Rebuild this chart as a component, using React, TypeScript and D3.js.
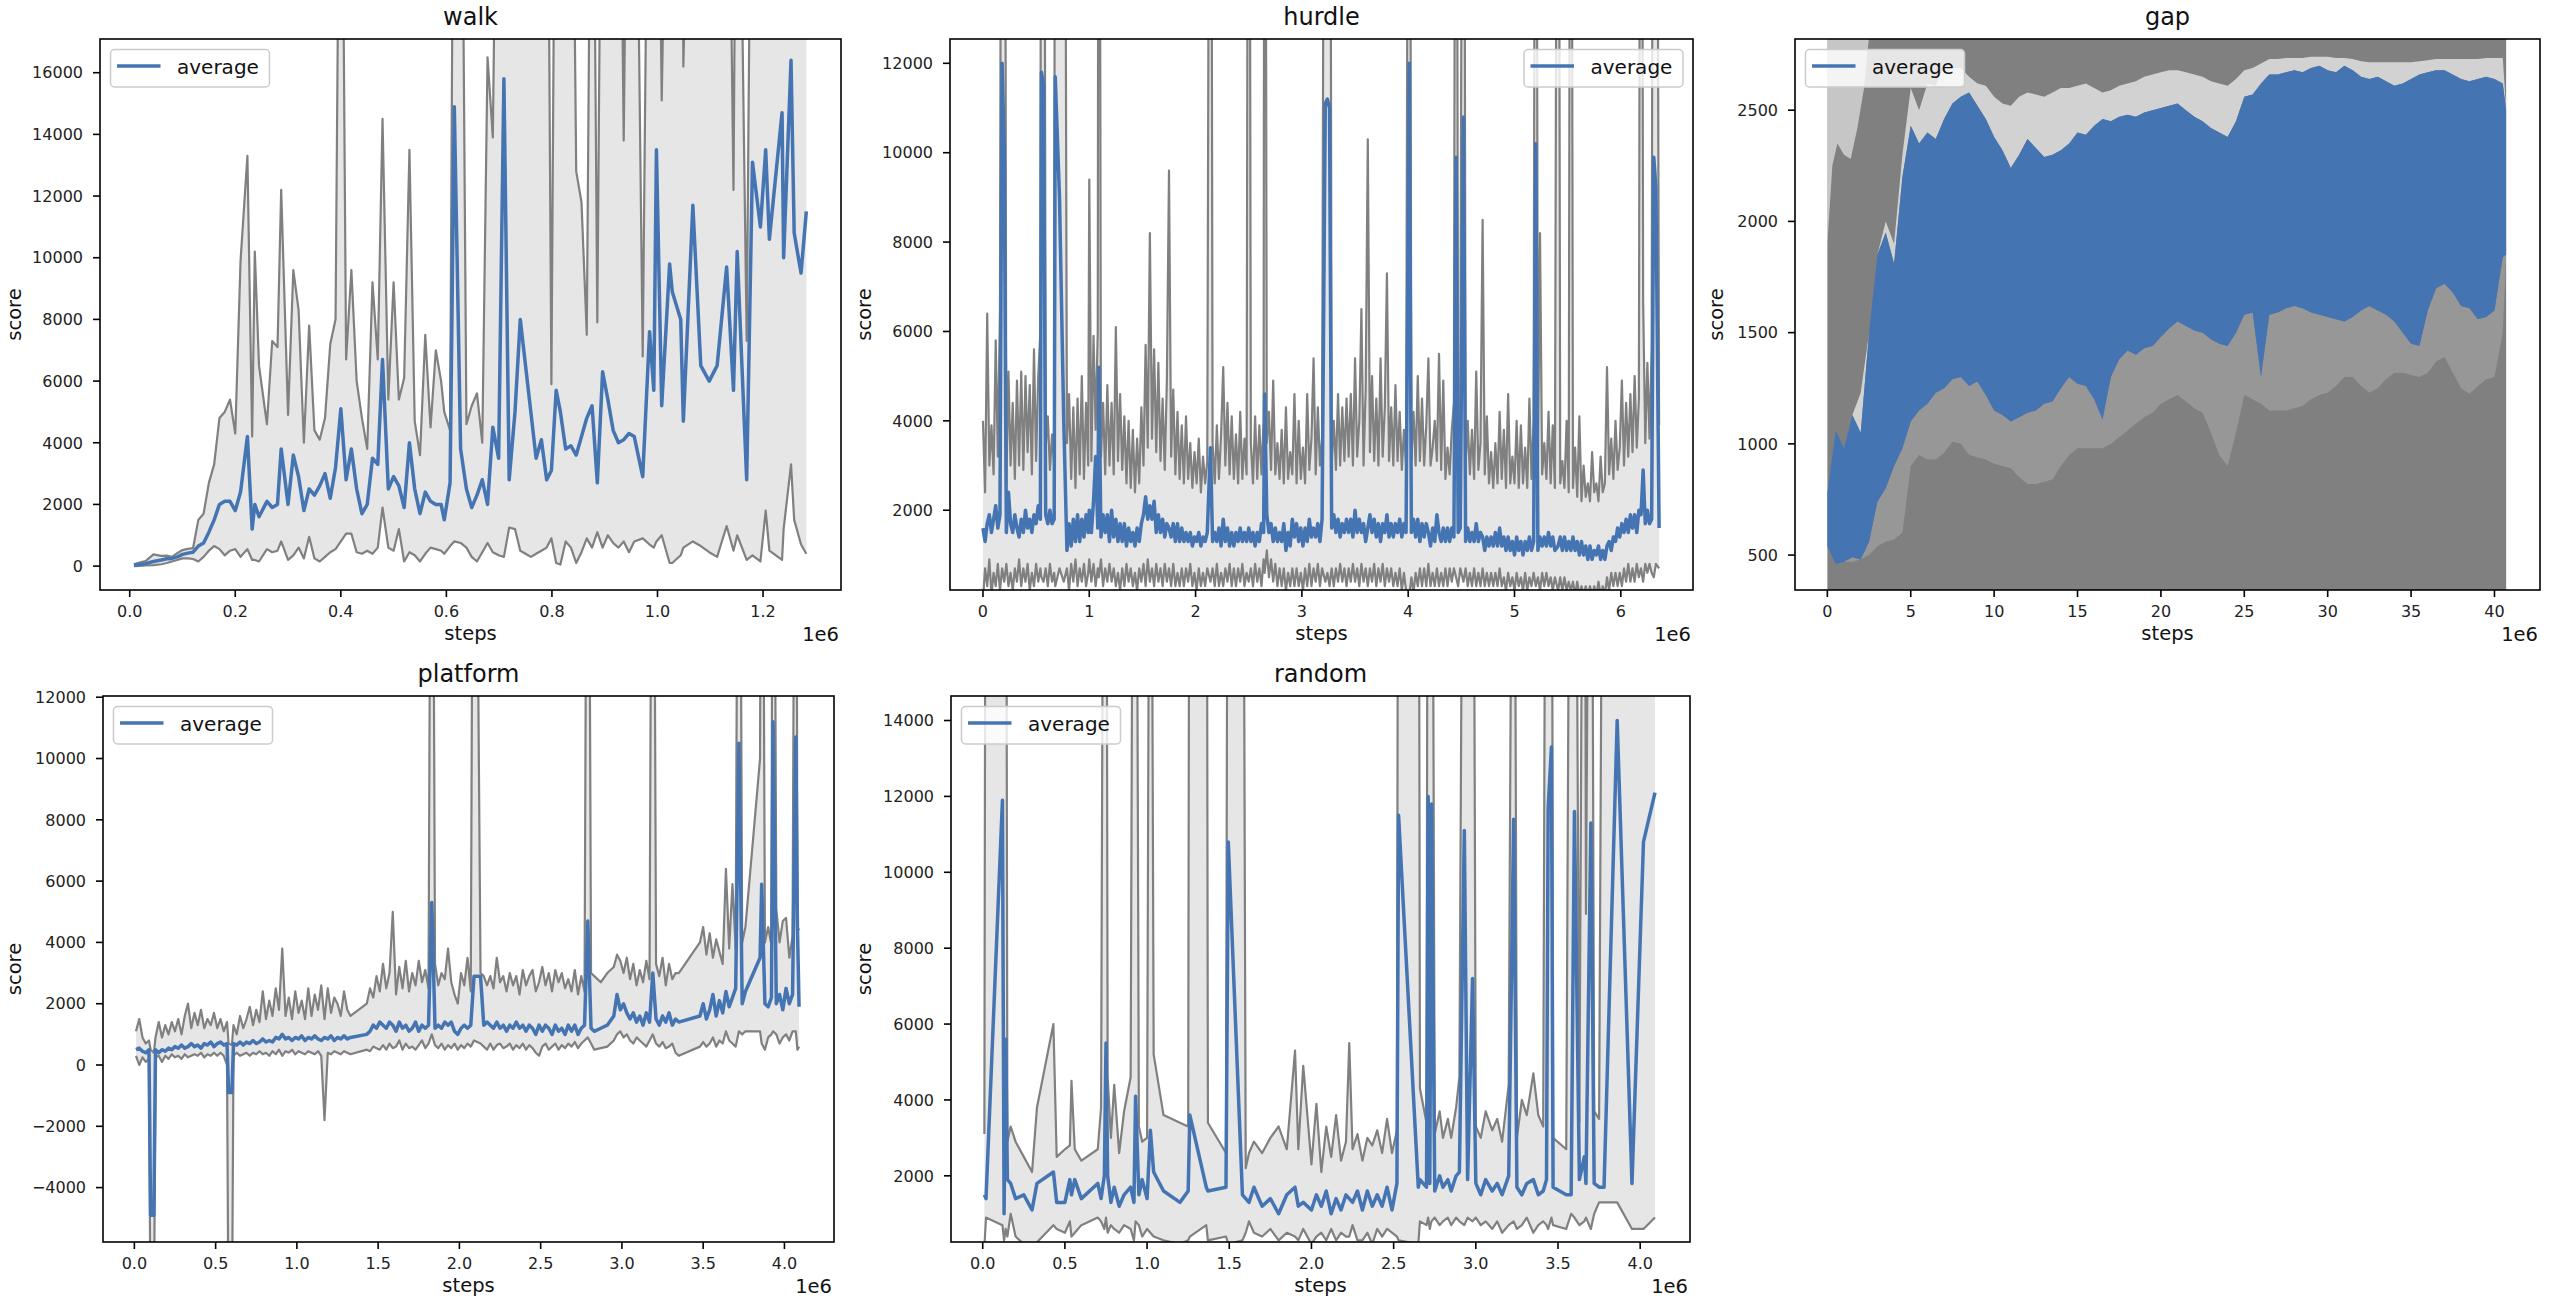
import React from "react";
import * as d3 from "d3";

// colours
const BLUE = "#4574b3";
const GREY = "#808080";
const BAND = "#e6e6e6";
const FONT = "DejaVu Sans, Liberation Sans, sans-serif";

// rows are [steps (1e6), average, min, max]; 30000 = off the top of the plot
const walkRows = [
	[0.008, 30, 0, 60], [0.02, 60, 10, 120], [0.03, 80, 20, 160], [0.045, 150, 30, 380],
	[0.06, 200, 60, 330], [0.07, 240, 100, 340], [0.08, 250, 150, 300], [0.09, 300, 200, 420],
	[0.1, 380, 250, 520], [0.11, 420, 250, 560], [0.12, 450, 230, 580], [0.13, 650, 150, 1500],
	[0.14, 750, 300, 1700], [0.15, 1100, 500, 2700], [0.16, 1500, 650, 3300], [0.17, 2000, 550, 4800],
	[0.18, 2100, 350, 5000], [0.19, 2100, 500, 5400], [0.2, 1800, 550, 4300], [0.21, 2400, 300, 9900],
	[0.223, 4200, 550, 13300], [0.232, 1200, 200, 4200], [0.237, 2000, 200, 10200], [0.245, 1600, 150, 6500],
	[0.26, 2100, 550, 4600], [0.27, 1900, 450, 7300], [0.28, 2000, 500, 7100], [0.287, 3800, 800, 12200],
	[0.3, 2000, 200, 4900], [0.31, 3600, 350, 9600], [0.32, 2900, 600, 8300], [0.33, 1800, 250, 4000],
	[0.34, 2500, 950, 7800], [0.35, 2300, 250, 4400], [0.36, 2600, 150, 4100], [0.37, 3000, 300, 4800],
	[0.38, 2200, 450, 7200], [0.39, 3200, 550, 8000], [0.4, 5100, 800, 30000], [0.41, 2800, 1050, 6700],
	[0.42, 3800, 1050, 9600], [0.43, 2500, 450, 6000], [0.44, 1700, 400, 4800], [0.45, 2000, 500, 3800],
	[0.46, 3500, 400, 9200], [0.47, 3300, 600, 6700], [0.479, 6700, 1900, 14500], [0.49, 2500, 600, 5400],
	[0.5, 2900, 500, 9200], [0.51, 2600, 1200, 5400], [0.52, 1900, 150, 6100], [0.53, 4000, 450, 13500],
	[0.54, 2500, 350, 4700], [0.55, 1700, 150, 3600], [0.56, 2400, 400, 7500], [0.57, 2100, 600, 4500],
	[0.58, 2000, 550, 7000], [0.59, 2000, 500, 6000], [0.596, 1500, 400, 5000], [0.607, 2700, 650, 4400],
	[0.615, 14900, 800, 30000], [0.627, 3800, 750, 30000], [0.638, 2500, 600, 4600], [0.648, 1900, 300, 5200],
	[0.658, 2300, 150, 5600], [0.668, 2800, 450, 4000], [0.678, 2000, 750, 16500], [0.688, 4500, 450, 13900],
	[0.699, 3500, 350, 30000], [0.709, 15800, 300, 30000], [0.719, 2800, 1250, 30000], [0.73, 5000, 1200, 30000],
	[0.74, 8000, 500, 30000], [0.75, 6500, 400, 30000], [0.76, 5000, 300, 30000], [0.77, 3500, 400, 30000],
	[0.78, 4100, 500, 30000], [0.79, 2800, 600, 30000], [0.799, 3100, 900, 5900], [0.808, 5700, 100, 30000],
	[0.816, 5000, 50, 30000], [0.826, 3800, 800, 30000], [0.836, 3900, 600, 30000], [0.846, 3600, 100, 12800],
	[0.856, 4200, 450, 11800], [0.866, 4800, 900, 7500], [0.876, 5200, 600, 30000], [0.886, 2700, 1100, 7900],
	[0.896, 6300, 600, 30000], [0.906, 5400, 1000, 30000], [0.916, 4400, 750, 30000], [0.926, 4000, 600, 30000],
	[0.936, 4100, 800, 13800], [0.946, 4300, 450, 30000], [0.956, 4200, 800, 30000], [0.972, 2900, 900, 6800],
	[0.985, 7600, 700, 30000], [0.993, 5700, 600, 30000], [0.998, 13500, 800, 30000], [1.008, 5200, 1000, 15100],
	[1.023, 9800, 100, 30000], [1.028, 8900, 100, 30000], [1.044, 8000, 350, 30000], [1.049, 4700, 600, 16200],
	[1.067, 11700, 800, 30000], [1.082, 6500, 650, 30000], [1.098, 6000, 450, 30000], [1.113, 6500, 300, 30000],
	[1.131, 9700, 1300, 30000], [1.144, 5700, 500, 12200], [1.151, 10200, 1000, 30000], [1.169, 2800, 200, 7300],
	[1.18, 13100, 350, 30000], [1.195, 11000, 150, 30000], [1.205, 13500, 1800, 30000], [1.212, 10600, 500, 30000],
	[1.236, 14700, 200, 30000], [1.239, 10000, 1200, 30000], [1.253, 16400, 3300, 30000], [1.259, 10800, 1500, 30000],
	[1.272, 9500, 700, 30000], [1.282, 11500, 400, 30000],
];

const hurdleRows = [
	[0.0, 1600, 0, 4000], [0.02, 1300, 700, 2400], [0.04, 1700, 300, 6400], [0.06, 1900, 900, 3000],
	[0.08, 1500, 100, 3900], [0.1, 1800, 600, 2800], [0.12, 2100, 300, 5800], [0.14, 1600, 800, 3200],
	[0.16, 1900, 200, 6500], [0.18, 12000, 700, 30000], [0.2, 10000, 400, 30000], [0.22, 1500, 800, 2600],
	[0.24, 2400, 300, 5100], [0.26, 1700, 600, 3000], [0.28, 1500, 200, 4400], [0.3, 1900, 700, 2700],
	[0.32, 1600, 400, 4900], [0.34, 1400, 900, 3000], [0.36, 1800, 300, 5100], [0.38, 1500, 700, 2900],
	[0.4, 2000, 400, 5000], [0.42, 1600, 800, 3300], [0.44, 1800, 200, 4800], [0.46, 1500, 600, 2800],
	[0.48, 1900, 300, 5600], [0.5, 1700, 800, 3100], [0.52, 2100, 400, 5000], [0.54, 1800, 700, 6000],
	[0.55, 11800, 500, 30000], [0.57, 11500, 400, 30000], [0.59, 1900, 700, 3400], [0.61, 1700, 300, 4100],
	[0.63, 2000, 800, 2900], [0.65, 1700, 400, 3700], [0.67, 1800, 600, 3000], [0.68, 11700, 300, 30000],
	[0.72, 9000, 700, 30000], [0.76, 4000, 400, 30000], [0.79, 1100, 700, 3500], [0.81, 1700, 200, 4600],
	[0.83, 1200, 800, 2700], [0.85, 1800, 400, 4300], [0.87, 1300, 900, 2500], [0.89, 1900, 300, 4500],
	[0.91, 1300, 700, 2800], [0.93, 1800, 400, 5000], [0.95, 1400, 800, 2700], [0.97, 1900, 300, 4400],
	[0.99, 1500, 600, 3000], [1.0, 2000, 900, 9400], [1.02, 1500, 400, 3100], [1.04, 2200, 800, 5900],
	[1.06, 3200, 300, 3800], [1.08, 1600, 700, 6000], [1.09, 5200, 500, 30000], [1.11, 1400, 900, 3200],
	[1.13, 1900, 300, 4400], [1.15, 1500, 700, 2800], [1.17, 1900, 400, 4800], [1.19, 1300, 800, 3000],
	[1.21, 2000, 400, 4400], [1.23, 1400, 700, 2800], [1.25, 1800, 300, 6100], [1.27, 1300, 600, 3100],
	[1.29, 1700, 200, 4600], [1.31, 1300, 700, 2900], [1.33, 1700, 300, 4100], [1.35, 1200, 800, 2600],
	[1.37, 1600, 400, 4000], [1.39, 1300, 700, 2500], [1.41, 1500, 300, 3800], [1.43, 1200, 600, 2400],
	[1.45, 1600, 200, 3600], [1.47, 1300, 700, 2600], [1.49, 1700, 400, 4300], [1.51, 1900, 800, 3000],
	[1.53, 2300, 300, 5700], [1.55, 1800, 900, 3400], [1.57, 2100, 400, 8200], [1.59, 1800, 700, 3600],
	[1.61, 2200, 300, 5600], [1.63, 1500, 800, 3300], [1.65, 1900, 400, 5300], [1.67, 1500, 700, 3100],
	[1.69, 1800, 300, 4500], [1.71, 1400, 800, 2900], [1.73, 1700, 400, 4900], [1.75, 1600, 700, 9600],
	[1.77, 1400, 300, 3200], [1.79, 1700, 800, 4700], [1.81, 1300, 300, 2800], [1.83, 1700, 600, 4200],
	[1.85, 1300, 300, 2700], [1.87, 1600, 700, 3900], [1.89, 1300, 300, 2600], [1.91, 1500, 700, 4100],
	[1.93, 1300, 400, 2700], [1.95, 1500, 800, 3500], [1.97, 1200, 300, 2500], [1.99, 1400, 600, 3300],
	[2.01, 1300, 200, 2600], [2.03, 1500, 700, 3600], [2.05, 1200, 300, 2400], [2.07, 1400, 600, 3200],
	[2.09, 1300, 300, 2600], [2.11, 1500, 700, 3100], [2.14, 3400, 400, 30000], [2.16, 1300, 700, 3500],
	[2.18, 1500, 300, 2600], [2.2, 1300, 800, 3900], [2.22, 1600, 300, 2700], [2.24, 1200, 600, 3700],
	[2.26, 1800, 300, 5200], [2.28, 1300, 700, 3000], [2.3, 1600, 400, 4400], [2.32, 1200, 800, 2800],
	[2.34, 1500, 300, 4100], [2.36, 1200, 700, 2700], [2.38, 1500, 300, 3700], [2.4, 1300, 700, 2600],
	[2.42, 1600, 400, 4200], [2.44, 1300, 800, 2700], [2.46, 1500, 300, 3600], [2.48, 1300, 600, 2800],
	[2.5, 1600, 400, 30000], [2.52, 1300, 700, 3500], [2.54, 1500, 300, 2600], [2.56, 1200, 800, 4100],
	[2.58, 1500, 400, 2700], [2.6, 1300, 700, 3900], [2.62, 1700, 300, 2800], [2.64, 1500, 900, 4000],
	[2.65, 4600, 600, 30000], [2.67, 1900, 1100, 3500], [2.69, 1500, 500, 4200], [2.71, 1700, 900, 2900],
	[2.73, 1300, 400, 4900], [2.75, 1600, 800, 2800], [2.77, 1300, 300, 3500], [2.79, 1500, 700, 2700],
	[2.81, 1300, 300, 3800], [2.83, 1700, 700, 2600], [2.85, 1100, 200, 4300], [2.87, 1500, 600, 2700],
	[2.89, 1200, 300, 3300], [2.91, 1800, 700, 2800], [2.93, 1400, 300, 4600], [2.95, 1700, 700, 2600],
	[2.97, 1300, 300, 4000], [2.99, 1600, 600, 2700], [3.01, 1200, 200, 3400], [3.03, 1600, 700, 2600],
	[3.05, 1300, 300, 4600], [3.07, 1800, 800, 2900], [3.09, 1400, 300, 3600], [3.11, 1600, 700, 5400],
	[3.13, 1400, 400, 2800], [3.15, 1700, 800, 4300], [3.17, 1300, 300, 3000], [3.19, 1800, 700, 3600],
	[3.22, 11100, 400, 30000], [3.24, 11200, 600, 30000], [3.26, 11000, 300, 30000], [3.28, 1600, 700, 3000],
	[3.3, 1900, 300, 4000], [3.32, 1500, 700, 2900], [3.34, 1800, 400, 4600], [3.36, 1400, 800, 3000],
	[3.38, 1700, 400, 4300], [3.4, 1500, 700, 3100], [3.42, 1800, 300, 4500], [3.44, 1500, 700, 3200],
	[3.46, 1800, 400, 4600], [3.48, 1400, 800, 3000], [3.5, 2000, 400, 5400], [3.52, 1500, 700, 3200],
	[3.54, 1800, 300, 4000], [3.56, 1500, 800, 6500], [3.58, 1700, 400, 3000], [3.6, 1300, 700, 4700],
	[3.62, 1600, 300, 10300], [3.64, 1900, 700, 3300], [3.66, 1500, 400, 5000], [3.68, 1800, 800, 3100],
	[3.7, 1400, 300, 4500], [3.72, 1700, 700, 3000], [3.74, 1300, 400, 5400], [3.76, 1700, 800, 3200],
	[3.78, 1500, 300, 4300], [3.8, 1900, 700, 7300], [3.82, 1400, 400, 3100], [3.84, 1700, 700, 4300],
	[3.86, 1400, 300, 3000], [3.88, 1700, 600, 4800], [3.9, 1500, 300, 3100], [3.92, 1800, 700, 4200],
	[3.94, 1400, 200, 2900], [3.96, 1700, 600, 3800], [3.98, 1500, 200, 3000], [4.01, 12000, 100, 30000],
	[4.03, 1500, 500, 3100], [4.05, 1800, 150, 4200], [4.07, 1400, 600, 3000], [4.09, 1800, 300, 5000],
	[4.11, 1300, 700, 3100], [4.13, 1700, 300, 4500], [4.15, 1400, 700, 3000], [4.17, 1700, 300, 3900],
	[4.19, 1500, 800, 5400], [4.21, 1200, 300, 3000], [4.23, 1600, 600, 3400], [4.25, 1300, 300, 4000],
	[4.27, 1900, 700, 3100], [4.29, 1500, 300, 5500], [4.31, 1300, 600, 2900], [4.33, 1600, 300, 4900],
	[4.35, 1300, 700, 2700], [4.37, 1600, 300, 3400], [4.39, 1300, 700, 2800], [4.41, 1600, 400, 3800],
	[4.43, 1400, 700, 4400], [4.45, 9900, 500, 30000], [4.47, 1500, 300, 3000], [4.49, 1600, 700, 4300],
	[4.52, 10800, 400, 30000], [4.54, 1300, 700, 3000], [4.56, 1600, 300, 4000], [4.58, 1300, 600, 2800],
	[4.6, 1500, 300, 3800], [4.62, 1300, 700, 2700], [4.64, 1700, 300, 5100], [4.66, 1300, 600, 2900],
	[4.68, 1500, 300, 3500], [4.7, 1400, 700, 8500], [4.72, 1100, 300, 2800], [4.74, 1400, 600, 4100],
	[4.76, 1200, 300, 2600], [4.78, 1400, 600, 3300], [4.8, 1200, 300, 2500], [4.82, 1500, 600, 3500],
	[4.84, 1200, 300, 2600], [4.86, 1600, 700, 4200], [4.88, 1200, 300, 2700], [4.9, 1400, 500, 3800],
	[4.92, 1100, 200, 2500], [4.94, 1400, 600, 4600], [4.96, 1100, 300, 2600], [4.98, 1300, 500, 3200],
	[5.0, 1000, 200, 2600], [5.02, 1400, 600, 4000], [5.04, 1100, 300, 2500], [5.06, 1300, 500, 3900],
	[5.08, 1000, 200, 2600], [5.1, 1300, 600, 3400], [5.12, 1100, 200, 2500], [5.14, 1400, 500, 4500],
	[5.16, 1100, 300, 2700], [5.18, 1300, 600, 4000], [5.2, 10200, 300, 30000], [5.22, 1100, 500, 3000],
	[5.24, 1400, 200, 8200], [5.26, 1200, 600, 2800], [5.28, 1400, 300, 3500], [5.3, 1200, 600, 2700],
	[5.32, 1500, 300, 4200], [5.34, 1200, 500, 2600], [5.36, 1400, 200, 3900], [5.38, 1100, 500, 2500],
	[5.41, 1200, 200, 30000], [5.43, 1400, 500, 2600], [5.45, 1100, 200, 3100], [5.47, 1400, 500, 2500],
	[5.49, 1100, 200, 4000], [5.51, 1300, 400, 2400], [5.53, 1100, 200, 30000], [5.55, 1400, 400, 2500],
	[5.57, 1100, 100, 3400], [5.59, 1300, 400, 2300], [5.61, 1000, 100, 4100], [5.63, 1300, 300, 2200],
	[5.65, 1000, 100, 3000], [5.67, 1200, 300, 2300], [5.69, 900, 100, 2600], [5.71, 1200, 300, 2200],
	[5.73, 900, 100, 3300], [5.75, 1100, 300, 2400], [5.77, 1000, 100, 2600], [5.79, 1200, 400, 2200],
	[5.81, 900, 100, 3200], [5.83, 1100, 300, 2400], [5.85, 900, 100, 2600], [5.87, 1200, 500, 5200],
	[5.89, 1300, 200, 2800], [5.91, 1100, 600, 3600], [5.93, 1400, 300, 2700], [5.95, 1300, 600, 4000],
	[5.97, 1600, 300, 2900], [5.99, 1400, 600, 3400], [6.01, 1700, 300, 4900], [6.03, 1500, 700, 3000],
	[6.05, 1800, 400, 4400], [6.07, 1500, 800, 3200], [6.09, 1900, 400, 4600], [6.11, 1600, 700, 3300],
	[6.13, 1900, 400, 5000], [6.15, 1500, 800, 3400], [6.17, 2000, 500, 4500], [6.19, 1900, 700, 30000],
	[6.21, 2900, 400, 6700], [6.23, 1700, 800, 3500], [6.25, 2000, 600, 5300], [6.27, 1700, 800, 3600],
	[6.29, 1800, 600, 5600], [6.31, 9900, 500, 30000], [6.33, 9200, 800, 30000], [6.36, 1600, 700, 3900],
];

// gap is too dense to read point by point: rows are [steps (1e6), blue low, blue high, light low, light high]
const gapRows = [
	[0, 540, 780, 540, 780], [0.5, 460, 1060, 460, 1060], [1, 470, 980, 470, 980], [1.5, 490, 1130, 470, 1130],
	[2, 480, 1050, 480, 1230], [2.5, 560, 1500, 500, 1500], [3, 740, 1850, 540, 1850], [3.5, 800, 1950, 560, 2000],
	[4, 900, 1810, 570, 1900], [4.5, 980, 2200, 600, 2300], [5, 1100, 2430, 900, 2600], [5.5, 1150, 2350, 950, 2500],
	[6, 1180, 2400, 930, 2620], [6.5, 1230, 2370, 930, 2610], [7, 1250, 2460, 960, 2700], [7.5, 1290, 2530, 1010, 2690],
	[8, 1300, 2560, 1000, 2690], [8.5, 1260, 2580, 950, 2650], [9, 1280, 2520, 940, 2620], [9.5, 1220, 2460, 930, 2610],
	[10, 1150, 2380, 910, 2560], [10.5, 1130, 2320, 900, 2530], [11, 1100, 2240, 890, 2520], [11.5, 1120, 2300, 850, 2560],
	[12, 1140, 2370, 820, 2580], [12.5, 1150, 2330, 820, 2570], [13, 1180, 2290, 830, 2560], [13.5, 1190, 2300, 840, 2580],
	[14, 1250, 2320, 900, 2600], [14.5, 1300, 2350, 950, 2600], [15, 1270, 2400, 980, 2610], [15.5, 1260, 2390, 980, 2620],
	[16, 1200, 2430, 980, 2600], [16.5, 1110, 2460, 980, 2580], [17, 1300, 2450, 1000, 2590], [17.5, 1380, 2470, 1030, 2610],
	[18, 1420, 2480, 1060, 2620], [18.5, 1400, 2470, 1090, 2630], [19, 1430, 2490, 1120, 2650], [19.5, 1440, 2500, 1140, 2660],
	[20, 1480, 2510, 1180, 2670], [20.5, 1520, 2520, 1200, 2680], [21, 1550, 2530, 1220, 2680], [21.5, 1530, 2500, 1190, 2670],
	[22, 1510, 2470, 1160, 2660], [22.5, 1500, 2450, 1140, 2650], [23, 1470, 2420, 1050, 2630], [23.5, 1450, 2400, 950, 2620],
	[24, 1440, 2380, 900, 2610], [24.5, 1500, 2450, 1050, 2640], [25, 1580, 2560, 1220, 2680], [25.5, 1590, 2570, 1200, 2690],
	[26, 1300, 2620, 1180, 2710], [26.5, 1580, 2660, 1150, 2730], [27, 1590, 2660, 1150, 2730], [27.5, 1610, 2670, 1150, 2735],
	[28, 1620, 2680, 1160, 2735], [28.5, 1610, 2670, 1170, 2735], [29, 1590, 2690, 1200, 2740], [29.5, 1580, 2700, 1220, 2740],
	[30, 1570, 2680, 1230, 2740], [30.5, 1560, 2670, 1260, 2735], [31, 1550, 2700, 1300, 2735], [31.5, 1570, 2680, 1300, 2730],
	[32, 1600, 2650, 1260, 2720], [32.5, 1620, 2640, 1230, 2715], [33, 1600, 2650, 1250, 2715], [33.5, 1580, 2630, 1290, 2715],
	[34, 1550, 2610, 1320, 2715], [34.5, 1500, 2620, 1320, 2715], [35, 1450, 2640, 1310, 2715], [35.5, 1440, 2660, 1300, 2720],
	[36, 1600, 2670, 1320, 2725], [36.5, 1700, 2680, 1370, 2730], [37, 1720, 2680, 1390, 2730], [37.5, 1680, 2660, 1320, 2730],
	[38, 1620, 2640, 1250, 2730], [38.5, 1610, 2630, 1225, 2730], [39, 1560, 2640, 1260, 2730], [39.5, 1570, 2650, 1290, 2735],
	[40, 1600, 2640, 1300, 2735], [40.5, 1840, 2620, 1500, 2735], [40.7, 1850, 2500, 1850, 2500],
];

// early gap steps where the max line still falls below the top: [steps (1e6), lowest white]
const gapTopRows = [
	[0, 1900], [0.3, 2250], [0.6, 2350], [1.0, 2300], [1.4, 2280], [1.8, 2420], [2.2, 2600], [2.5, 2830],
];

const platformRows = [
	[0.01, 500, 300, 1100], [0.03, 550, 0, 1500], [0.05, 450, 250, 900], [0.07, 400, 100, 700],
	[0.09, 500, 200, 800], [0.1, -4900, -9000, 500], [0.12, -4900, -9000, 400], [0.13, 500, 250, 900],
	[0.15, 400, 300, 1400], [0.17, 500, 100, 900], [0.19, 450, 300, 1300], [0.21, 550, 200, 1000],
	[0.23, 500, 350, 1400], [0.25, 600, 250, 1100], [0.27, 550, 300, 1500], [0.29, 650, 200, 1000],
	[0.31, 550, 350, 1600], [0.33, 600, 250, 2000], [0.35, 700, 300, 1200], [0.37, 600, 350, 1700],
	[0.39, 650, 300, 1300], [0.41, 550, 400, 1800], [0.43, 700, 250, 1200], [0.45, 650, 350, 1500],
	[0.47, 750, 300, 1300], [0.49, 600, 400, 1700], [0.51, 700, 300, 1200], [0.53, 750, 400, 1500],
	[0.55, 650, 300, 1100], [0.57, 700, 0, 1400], [0.58, -900, -9000, 700], [0.6, -900, -9000, 650],
	[0.61, 700, 300, 1300], [0.63, 650, 400, 1000], [0.65, 750, 300, 1600], [0.67, 650, 350, 1200],
	[0.69, 750, 400, 1500], [0.71, 700, 300, 1900], [0.73, 800, 400, 1300], [0.75, 700, 350, 1800],
	[0.77, 750, 450, 1400], [0.79, 850, 350, 2400], [0.81, 750, 400, 1500], [0.83, 800, 300, 2100],
	[0.85, 750, 450, 1600], [0.87, 900, 350, 2500], [0.89, 850, 500, 1800], [0.91, 1000, 300, 3800],
	[0.93, 850, 450, 1600], [0.95, 900, 400, 2200], [0.97, 800, 500, 1500], [0.99, 900, 350, 2400],
	[1.01, 850, 450, 1700], [1.03, 950, 400, 2100], [1.05, 800, 350, 1500], [1.07, 900, 450, 2500],
	[1.09, 850, 400, 1600], [1.11, 950, 350, 2300], [1.13, 850, 450, 1800], [1.15, 800, 300, 2600],
	[1.17, 900, -1800, 1500], [1.19, 850, 400, 2500], [1.21, 950, 350, 1700], [1.23, 800, 450, 2200],
	[1.25, 900, 400, 2000], [1.27, 850, 350, 1600], [1.29, 950, 450, 2400], [1.31, 850, 400, 1800],
	[1.33, 900, 350, 1600], [1.43, 1000, 500, 2000], [1.45, 1100, 450, 2500], [1.47, 1300, 600, 2200],
	[1.49, 1200, 550, 2900], [1.51, 1400, 500, 2400], [1.53, 1300, 650, 3300], [1.55, 1200, 500, 2500],
	[1.57, 1400, 700, 3000], [1.59, 1300, 550, 5000], [1.61, 1100, 600, 2300], [1.63, 1400, 800, 3200],
	[1.65, 1200, 500, 2500], [1.67, 1300, 700, 3400], [1.69, 1100, 550, 2400], [1.71, 1200, 600, 3000],
	[1.73, 1400, 500, 2600], [1.75, 1100, 650, 3400], [1.77, 1300, 800, 2700], [1.79, 1200, 550, 3100],
	[1.81, 1300, 700, 2500], [1.83, 5300, 1000, 30000], [1.85, 1200, 650, 3300], [1.87, 1300, 550, 2600],
	[1.89, 1200, 700, 3000], [1.91, 1400, 500, 2800], [1.93, 1300, 650, 3800], [1.95, 1400, 550, 2700],
	[1.97, 1100, 700, 2300], [1.99, 1000, 500, 2000], [2.01, 1200, 650, 3000], [2.03, 1300, 550, 2600],
	[2.05, 1200, 700, 3500], [2.07, 1300, 600, 2400], [2.09, 2900, 800, 30000], [2.13, 2900, 700, 3000],
	[2.15, 1300, 600, 2900], [2.17, 1400, 500, 2600], [2.19, 1300, 700, 2900], [2.21, 1200, 500, 2500],
	[2.23, 1400, 650, 3500], [2.25, 1200, 700, 2700], [2.27, 1300, 550, 2900], [2.29, 1100, 600, 2400],
	[2.31, 1300, 700, 3000], [2.33, 1200, 500, 2600], [2.35, 1400, 650, 2900], [2.37, 1200, 550, 2300],
	[2.39, 1300, 700, 3100], [2.41, 1100, 500, 2600], [2.43, 1300, 650, 2900], [2.45, 1200, 550, 3100],
	[2.47, 1000, 400, 2400], [2.49, 1300, 300, 2700], [2.51, 1100, 600, 3200], [2.53, 1300, 700, 2600],
	[2.55, 1200, 500, 3000], [2.57, 1000, 600, 2400], [2.59, 1300, 700, 3100], [2.61, 1100, 500, 2700],
	[2.63, 1200, 650, 3000], [2.65, 1000, 550, 2500], [2.67, 1300, 700, 2800], [2.69, 1100, 600, 2400],
	[2.71, 1300, 750, 3100], [2.73, 1000, 550, 2300], [2.75, 1200, 700, 2900], [2.77, 1300, 800, 2400],
	[2.79, 4700, 900, 30000], [2.81, 1200, 700, 3000], [2.83, 1100, 500, 2900], [2.87, 1200, 550, 2700],
	[2.91, 1300, 600, 3000], [2.95, 1600, 800, 3200], [2.97, 2300, 1000, 3600], [2.99, 1800, 1100, 3400],
	[3.01, 2000, 900, 3000], [3.03, 1700, 1000, 3500], [3.05, 1500, 800, 2800], [3.07, 1700, 700, 3300],
	[3.09, 1400, 900, 2600], [3.11, 1600, 800, 3100], [3.13, 1300, 700, 2700], [3.15, 1700, 600, 3400],
	[3.17, 1400, 800, 2800], [3.19, 3000, 1000, 30000], [3.21, 1500, 700, 3300], [3.23, 1300, 600, 2900],
	[3.25, 1600, 750, 3500], [3.27, 1400, 550, 2600], [3.29, 1700, 600, 3300], [3.31, 1300, 700, 2800],
	[3.33, 1500, 400, 3000], [3.35, 1400, 300, 3000], [3.48, 1600, 600, 4000], [3.5, 2000, 750, 4500],
	[3.52, 1500, 600, 3600], [3.54, 1800, 700, 4300], [3.56, 2300, 900, 3500], [3.58, 1600, 600, 4100],
	[3.6, 2100, 800, 3700], [3.62, 1700, 700, 3300], [3.64, 2400, 1100, 6400], [3.66, 1900, 800, 3800],
	[3.68, 2200, 700, 5900], [3.7, 2500, 600, 3800], [3.72, 10500, 1100, 30000], [3.74, 2000, 1000, 4000],
	[3.76, 2400, 1100, 4500], [3.85, 3500, 1100, 10000], [3.86, 5900, 700, 30000], [3.88, 2000, 500, 4000],
	[3.9, 1900, 900, 4500], [3.92, 2200, 1000, 3900], [3.93, 11200, 1100, 30000], [3.95, 2000, 1000, 5100],
	[3.97, 2300, 700, 4000], [3.99, 1800, 900, 4700], [4.01, 2500, 1000, 4800], [4.03, 2000, 800, 3500],
	[4.05, 2300, 1100, 4200], [4.07, 10700, 1100, 30000], [4.08, 4500, 500, 4500], [4.09, 1900, 600, 4400],
];

const randomRows = [
	[0.01, 1500, 100, 3100], [0.02, 1400, 900, 30000], [0.12, 11900, 700, 30000], [0.13, 1000, 300, 30000],
	[0.14, 5600, 600, 30000], [0.15, 1900, 400, 2900], [0.17, 1800, 1000, 3300], [0.2, 1400, 400, 2900],
	[0.25, 1500, 200, 2500], [0.3, 1100, 100, 2100], [0.33, 1800, 250, 3800], [0.43, 2100, 700, 6000],
	[0.45, 1300, 600, 2500], [0.5, 1300, 500, 2700], [0.53, 1900, 800, 2800], [0.54, 1500, 400, 4500],
	[0.56, 1900, 500, 2700], [0.6, 1400, 700, 2400], [0.7, 1800, 900, 2700], [0.72, 1400, 800, 3800],
	[0.74, 2000, 600, 30000], [0.75, 5500, 900, 30000], [0.76, 2000, 500, 4600], [0.78, 1300, 700, 3000],
	[0.8, 1700, 600, 4400], [0.83, 1200, 500, 2600], [0.86, 1500, 700, 3700], [0.9, 1700, 600, 4600],
	[0.92, 1300, 300, 30000], [0.93, 4100, 800, 30000], [0.95, 1500, 700, 3300], [0.97, 1900, 400, 2900],
	[1.0, 1400, 600, 3000], [1.02, 3200, 500, 30000], [1.04, 2100, 400, 5200], [1.1, 1600, 300, 3600],
	[1.2, 1300, 200, 3400], [1.25, 1600, 300, 3300], [1.26, 3600, 400, 30000], [1.36, 1700, 700, 30000],
	[1.37, 1600, 300, 3400], [1.48, 1700, 400, 2600], [1.494, 10800, 200, 30000], [1.58, 1500, 300, 30000],
	[1.6, 1400, 500, 2200], [1.62, 1300, 800, 2600], [1.65, 1700, 500, 2900], [1.7, 1200, 400, 2600],
	[1.75, 1400, 600, 3000], [1.8, 1000, 300, 3300], [1.85, 1500, 500, 2700], [1.9, 1700, 400, 5300],
	[1.92, 1200, 300, 2700], [1.95, 1300, 600, 4900], [2.0, 1100, 200, 2300], [2.03, 1500, 400, 3900],
	[2.06, 1200, 500, 2100], [2.09, 1600, 300, 3300], [2.12, 1000, 600, 2500], [2.15, 1400, 300, 3600],
	[2.18, 1100, 500, 2400], [2.21, 1500, 400, 2900], [2.23, 1400, 400, 5500], [2.25, 1300, 700, 2700],
	[2.28, 1600, 300, 3100], [2.31, 1100, 300, 2400], [2.34, 1600, 500, 3000], [2.37, 1200, 200, 2800],
	[2.4, 1500, 600, 3200], [2.43, 1200, 400, 2600], [2.46, 1700, 600, 3500], [2.49, 1100, 500, 2600],
	[2.52, 1800, 400, 3200], [2.53, 11500, 300, 30000], [2.65, 1700, 200, 30000], [2.66, 1900, 800, 4300],
	[2.7, 1700, 700, 3400], [2.71, 12000, 900, 30000], [2.72, 1800, 600, 30000], [2.73, 11800, 800, 30000],
	[2.75, 1600, 900, 3100], [2.78, 2000, 700, 3700], [2.8, 1700, 800, 3000], [2.83, 1900, 900, 3500],
	[2.85, 1600, 700, 3000], [2.88, 2000, 900, 3800], [2.9, 2100, 800, 4600], [2.93, 11100, 700, 30000],
	[2.95, 1900, 900, 30000], [2.98, 7200, 800, 30000], [3.0, 1800, 900, 3300], [3.03, 1500, 700, 3000],
	[3.06, 1900, 800, 3700], [3.1, 1600, 600, 3200], [3.13, 1800, 800, 3500], [3.16, 1500, 500, 2900],
	[3.2, 2000, 700, 4400], [3.23, 11400, 800, 30000], [3.25, 1700, 600, 3000], [3.28, 1500, 700, 4000],
	[3.31, 1800, 900, 3600], [3.35, 1900, 500, 4700], [3.38, 1500, 700, 3600], [3.41, 1600, 800, 3300],
	[3.43, 1900, 700, 30000], [3.44, 11700, 600, 30000], [3.46, 13300, 900, 30000], [3.47, 1700, 700, 3000],
	[3.55, 1500, 600, 2700], [3.58, 1500, 1000, 30000], [3.6, 11600, 900, 30000], [3.63, 1900, 700, 3400],
	[3.66, 2500, 800, 30000], [3.67, 1800, 900, 8900], [3.7, 11300, 600, 30000], [3.72, 1800, 1000, 3700],
	[3.75, 1700, 1300, 3500], [3.78, 1700, 1300, 30000], [3.86, 14000, 1300, 30000], [3.95, 1800, 600, 30000],
	[4.02, 10800, 600, 30000], [4.09, 12100, 900, 30000],
];

// tick values per panel
const walkXTicks = [0, 0.2, 0.4, 0.6, 0.8, 1.0, 1.2];
const walkYTicks = [0, 2000, 4000, 6000, 8000, 10000, 12000, 14000, 16000];
const hurdleXTicks = [0, 1, 2, 3, 4, 5, 6];
const hurdleYTicks = [2000, 4000, 6000, 8000, 10000, 12000];
const gapXTicks = [0, 5, 10, 15, 20, 25, 30, 35, 40];
const gapYTicks = [500, 1000, 1500, 2000, 2500];
const halfXTicks = [0, 0.5, 1.0, 1.5, 2.0, 2.5, 3.0, 3.5, 4.0];
const platformYTicks = [-4000, -2000, 0, 2000, 4000, 6000, 8000, 10000, 12000];
const randomYTicks = [2000, 4000, 6000, 8000, 10000, 12000, 14000];

type Spec = {
	id: string;
	title: string;
	box: [number, number, number, number];
	xDomain: [number, number];
	yDomain: [number, number];
	xTicks: number[];
	xDigits: number;
	yTicks: number[];
	legendRight?: boolean;
	ylabelX: number;
};

const fmtY = (v: number) => (v < 0 ? "\u2212" + Math.abs(v) : String(v));

function scalesFor(spec: Spec) {
	const [x0, y0, x1, y1] = spec.box;
	return {
		xs: d3.scaleLinear().domain(spec.xDomain).range([x0, x1]),
		ys: d3.scaleLinear().domain(spec.yDomain).range([y1, y0]),
	};
}

function Frame({ spec, children }: { spec: Spec; children: React.ReactNode }) {
	const [x0, y0, x1, y1] = spec.box;
	const { xs, ys } = scalesFor(spec);
	const lx = spec.legendRight ? x1 - 10 - 159 : x0 + 10.5;
	const ly = y0 + 10.5;
	return (
		<g fontFamily={FONT}>
			<defs>
				<clipPath id={`clip-${spec.id}`}>
					<rect x={x0} y={y0} width={x1 - x0} height={y1 - y0} />
				</clipPath>
			</defs>
			<g clipPath={`url(#clip-${spec.id})`}>{children}</g>
			<rect x={x0} y={y0} width={x1 - x0} height={y1 - y0} fill="none" stroke="#000" strokeWidth={1.6} />
			{spec.xTicks.map((t) => (
				<g key={`x${t}`}>
					<line x1={xs(t)} x2={xs(t)} y1={y1} y2={y1 + 7} stroke="#000" strokeWidth={1.6} />
					<text x={xs(t)} y={y1 + 27} fontSize={16} textAnchor="middle" fill="#222">
						{t.toFixed(spec.xDigits)}
					</text>
				</g>
			))}
			{spec.yTicks.map((t) => (
				<g key={`y${t}`}>
					<line x1={x0 - 7} x2={x0} y1={ys(t)} y2={ys(t)} stroke="#000" strokeWidth={1.6} />
					<text x={x0 - 17} y={ys(t)} dy="0.36em" fontSize={16} textAnchor="end" fill="#222">
						{fmtY(t)}
					</text>
				</g>
			))}
			<text x={(x0 + x1) / 2} y={y0 - 14} fontSize={24} textAnchor="middle" fill="#111">
				{spec.title}
			</text>
			<text x={(x0 + x1) / 2} y={y1 + 50} fontSize={19.5} textAnchor="middle" fill="#111">
				steps
			</text>
			<text x={x1 - 2} y={y1 + 51} fontSize={19.5} textAnchor="end" fill="#111">
				1e6
			</text>
			<text
				transform={`translate(${spec.ylabelX},${(y0 + y1) / 2}) rotate(-90)`}
				fontSize={19.5}
				textAnchor="middle"
				dy="0.36em"
				fill="#111"
			>
				score
			</text>
			<g transform={`translate(${lx},${ly})`}>
				<rect width={159} height={37.5} rx={4} fill="#fff" fillOpacity={0.8} stroke="#cccccc" strokeWidth={1.5} />
				<line x1={6.5} x2={50} y1={16.5} y2={16.5} stroke={BLUE} strokeWidth={3.5} />
				<text x={66.5} y={24} fontSize={20} fill="#111">
					average
				</text>
			</g>
		</g>
	);
}

function RunMarks({ spec, rows }: { spec: Spec; rows: number[][] }) {
	const { xs, ys } = scalesFor(spec);
	const band = d3
		.area<number[]>()
		.x((r) => xs(r[0]))
		.y0((r) => ys(r[2]))
		.y1((r) => ys(r[3]));
	const line = (k: number) =>
		d3
			.line<number[]>()
			.x((r) => xs(r[0]))
			.y((r) => ys(r[k]))(rows) ?? "";
	return (
		<g strokeLinejoin="round" fill="none">
			<path d={band(rows) ?? ""} fill={BAND} stroke="none" />
			<path d={line(2)} stroke={GREY} strokeWidth={2.2} />
			<path d={line(3)} stroke={GREY} strokeWidth={2.2} />
			<path d={line(1)} stroke={BLUE} strokeWidth={3.5} />
		</g>
	);
}

function GapMarks({ spec, rows, top }: { spec: Spec; rows: number[][]; top: number[][] }) {
	const [, y0, , y1] = spec.box;
	const { xs, ys } = scalesFor(spec);
	const between = (lo: number, hi: number) =>
		d3
			.area<number[]>()
			.x((r) => xs(r[0]))
			.y0((r) => ys(r[lo]))
			.y1((r) => ys(r[hi]))(rows) ?? "";
	const whiteTop =
		d3
			.area<number[]>()
			.x((r) => xs(r[0]))
			.y0((r) => ys(r[1]))
			.y1(y0)(top) ?? "";
	const first = xs(rows[0][0]);
	const last = xs(rows[rows.length - 1][0]);
	return (
		<g>
			{/* min and max lines swing so often that they paint a solid grey block */}
			<rect x={first} y={y0} width={last - first} height={y1 - y0} fill={GREY} />
			<path d={whiteTop} fill="#fff" fillOpacity={0.55} />
			<path d={between(3, 1)} fill={BAND} fillOpacity={0.22} />
			<path d={between(2, 4)} fill={BAND} fillOpacity={0.8} />
			<path d={between(1, 2)} fill={BLUE} />
		</g>
	);
}

const walkSpec: Spec = {
	id: "walk", title: "walk", box: [100, 39, 841, 590], xDomain: [-0.0563, 1.3477], yDomain: [-775, 17093],
	xTicks: walkXTicks, xDigits: 1, yTicks: walkYTicks, ylabelX: 13.5,
};
const hurdleSpec: Spec = {
	id: "hurdle", title: "hurdle", box: [950, 39, 1693, 590], xDomain: [-0.31, 6.679], yDomain: [215, 12544],
	xTicks: hurdleXTicks, xDigits: 0, yTicks: hurdleYTicks, legendRight: true, ylabelX: 863.5,
};
const gapSpec: Spec = {
	id: "gap", title: "gap", box: [1795, 39, 2540, 590], xDomain: [-1.94, 42.73], yDomain: [343, 2820],
	xTicks: gapXTicks, xDigits: 0, yTicks: gapYTicks, ylabelX: 1716,
};
const platformSpec: Spec = {
	id: "platform", title: "platform", box: [103, 696, 834, 1242], xDomain: [-0.193, 4.305], yDomain: [-5775, 12040],
	xTicks: halfXTicks, xDigits: 1, yTicks: platformYTicks, ylabelX: 13.5,
};
const randomSpec: Spec = {
	id: "random", title: "random", box: [951, 696, 1690, 1242], xDomain: [-0.193, 4.303], yDomain: [256, 14646],
	xTicks: halfXTicks, xDigits: 1, yTicks: randomYTicks, ylabelX: 863.5,
};

export default function App() {
	return (
		<svg
			width={2550}
			height={1304}
			viewBox="0 0 2550 1304"
			style={{ position: "absolute", left: 0, top: 0, background: "#fff" }}
		>
			<rect width={2550} height={1304} fill="#fff" />
			<Frame spec={walkSpec}>
				<RunMarks spec={walkSpec} rows={walkRows} />
			</Frame>
			<Frame spec={hurdleSpec}>
				<RunMarks spec={hurdleSpec} rows={hurdleRows} />
			</Frame>
			<Frame spec={gapSpec}>
				<GapMarks spec={gapSpec} rows={gapRows} top={gapTopRows} />
			</Frame>
			<Frame spec={platformSpec}>
				<RunMarks spec={platformSpec} rows={platformRows} />
			</Frame>
			<Frame spec={randomSpec}>
				<RunMarks spec={randomSpec} rows={randomRows} />
			</Frame>
		</svg>
	);
}
